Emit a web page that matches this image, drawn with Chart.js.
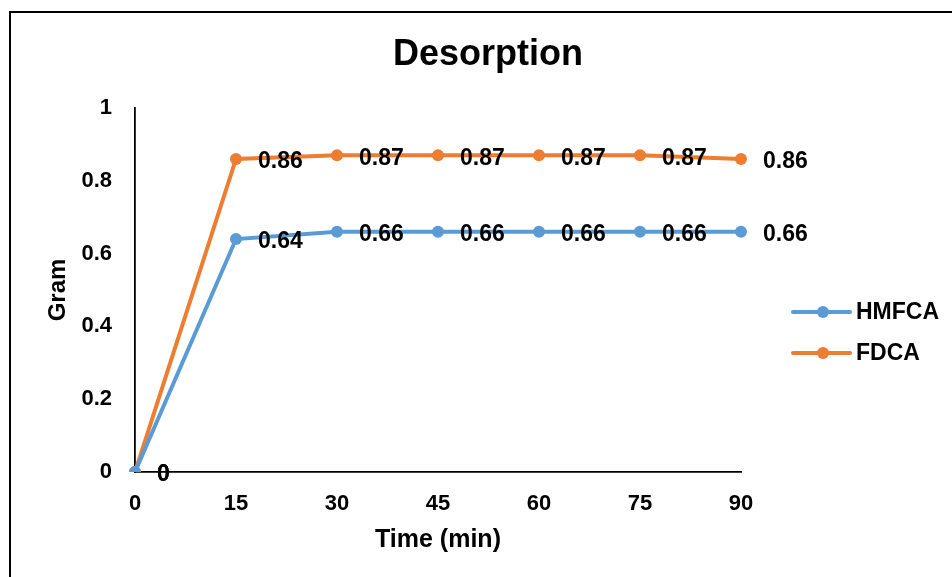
<!DOCTYPE html>
<html>
<head>
<meta charset="utf-8">
<script src="https://cdn.jsdelivr.net/npm/chart.js@4.4.0/dist/chart.umd.min.js"></script>
<style>
	html, body { margin: 0; padding: 0; background: #fff; overflow: hidden; }
	#frame {
		position: absolute; left: 9px; top: 11px; width: 1000px; height: 700px;
		border-top: 2px solid #000; border-left: 2px solid #000;
	}
	#wrap { position: absolute; left: 0; top: 0; width: 952px; height: 577px; }
</style>
</head>
<body>
<div id="frame"></div>
<div id="wrap"><canvas id="chart" width="952" height="577"></canvas></div>
<script>
const chartTitle = "Desorption";
const timeLabels = ["0", "15", "30", "45", "60", "75", "90"];
const hmfcaValues = [0, 0.64, 0.66, 0.66, 0.66, 0.66, 0.66];
const fdcaValues = [0, 0.86, 0.87, 0.87, 0.87, 0.87, 0.86];
const seriesNames = ["HMFCA", "FDCA"];
const seriesColors = ["#5B9BD5", "#ED7D31"];

const FONT = "'Liberation Sans', Arial, sans-serif";
Chart.defaults.font.family = FONT;
Chart.defaults.font.weight = "bold";
Chart.defaults.color = "#000";

// title centred over the whole picture, not just the plot
const topTitle = {
	id: "topTitle",
	afterDraw(chart) {
		const ctx = chart.ctx;
		ctx.save();
		ctx.font = "bold 36px " + FONT;
		ctx.fillStyle = "#000";
		ctx.textAlign = "center";
		ctx.textBaseline = "middle";
		ctx.fillText(chartTitle, chart.width / 2 + 12, 55);
		ctx.restore();
	},
};

// value labels to the right of each point
const pointLabels = {
	id: "pointLabels",
	afterDatasetsDraw(chart) {
		const ctx = chart.ctx;
		ctx.save();
		ctx.font = "bold 23px " + FONT;
		ctx.fillStyle = "#000";
		ctx.textAlign = "left";
		ctx.textBaseline = "middle";
		chart.data.datasets.forEach((ds, i) => {
			const meta = chart.getDatasetMeta(i);
			meta.data.forEach((pt, j) => {
				ctx.fillText(String(ds.data[j]), pt.x + 22, pt.y + 3);
			});
		});
		ctx.restore();
	},
};

// legend on the right: line with a dot, then the name
const sideLegend = {
	id: "sideLegend",
	afterDraw(chart) {
		const ctx = chart.ctx;
		const area = chart.chartArea;
		const mid = (area.top + area.bottom) / 2;
		ctx.save();
		chart.data.datasets.forEach((ds, i) => {
			const y = mid + 22 + i * 41;
			const x0 = area.right + 52;
			ctx.strokeStyle = ds.borderColor;
			ctx.lineWidth = 4;
			ctx.lineCap = "round";
			ctx.beginPath();
			ctx.moveTo(x0, y);
			ctx.lineTo(x0 + 57, y);
			ctx.stroke();
			ctx.fillStyle = ds.borderColor;
			ctx.beginPath();
			ctx.arc(x0 + 30, y, 6, 0, Math.PI * 2);
			ctx.fill();
			ctx.fillStyle = "#000";
			ctx.font = "bold 23px " + FONT;
			ctx.textAlign = "left";
			ctx.textBaseline = "middle";
			ctx.fillText(ds.label, x0 + 63, y + 1);
		});
		ctx.restore();
	},
};

const data = {
	labels: timeLabels,
	datasets: [
		{
			label: seriesNames[0],
			data: hmfcaValues,
			borderColor: seriesColors[0],
			backgroundColor: seriesColors[0],
			borderWidth: 4,
			pointRadius: 6,
			pointBorderWidth: 0,
			tension: 0,
		},
		{
			label: seriesNames[1],
			data: fdcaValues,
			borderColor: seriesColors[1],
			backgroundColor: seriesColors[1],
			borderWidth: 4,
			pointRadius: 6,
			pointBorderWidth: 0,
			tension: 0,
		},
	],
};

const options = {
	responsive: false,
	animation: false,
	layout: {
		padding: { left: 40, right: 211, top: 108, bottom: 18 },
	},
	plugins: {
		legend: { display: false },
		tooltip: { enabled: false },
		title: { display: false },
	},
	scales: {
		x: {
			type: "category",
			offset: false,
			grid: { display: false },
			border: { display: true, color: "#000", width: 1.8 },
			ticks: { padding: 11, font: { size: 22 } },
			title: { display: true, text: "Time (min)", font: { size: 25 } },
			afterFit: (s) => { s.height = 87; },
		},
		y: {
			min: 0,
			max: 1,
			grid: { display: false },
			border: { display: true, color: "#000", width: 1.8 },
			ticks: {
				stepSize: 0.2,
				padding: 15,
				font: { size: 22 },
				callback: (v) => String(Number(v.toFixed(1))),
			},
			title: { display: true, text: "Gram", font: { size: 24 } },
			afterFit: (s) => { s.width = 95; },
		},
	},
};

new Chart(document.getElementById("chart").getContext("2d"), {
	type: "line",
	data,
	options,
	plugins: [pointLabels, sideLegend, topTitle],
});
</script>
</body>
</html>
